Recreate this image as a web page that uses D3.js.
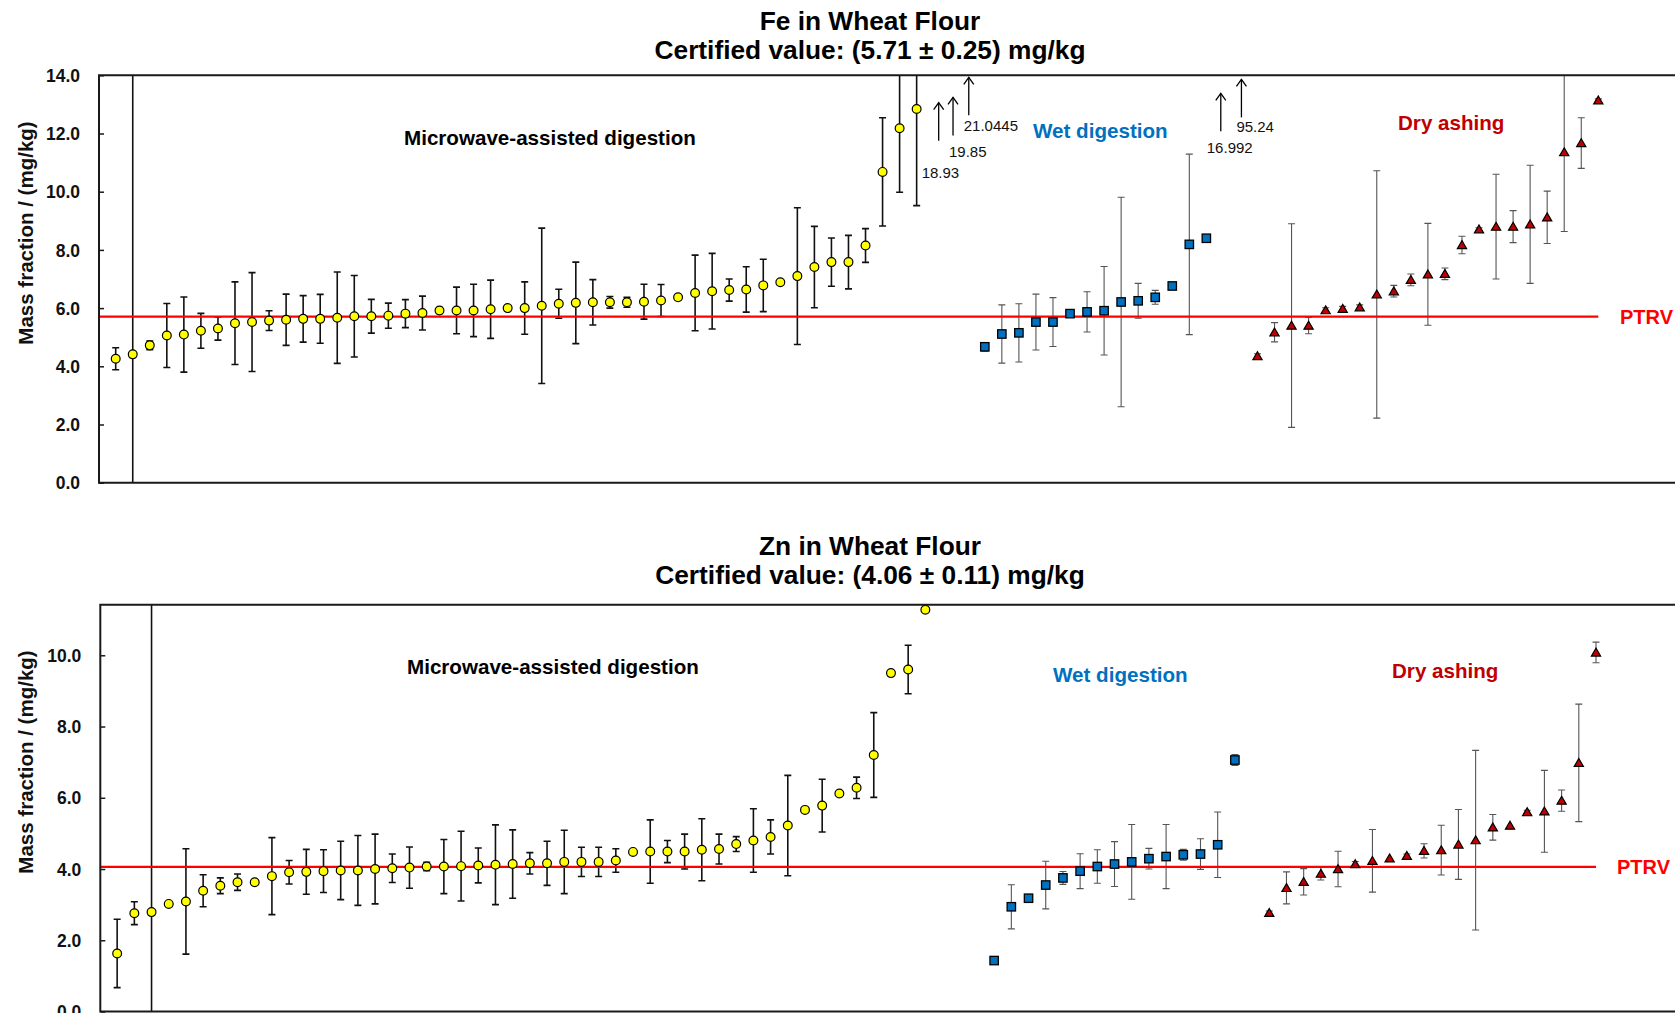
<!DOCTYPE html>
<html><head><meta charset="utf-8">
<script src="https://cdn.jsdelivr.net/npm/d3@7"></script>
<style>
body{margin:0;background:#fff}
svg{display:block}
text{font-family:"Liberation Sans",Arial,Helvetica,sans-serif}
</style>
</head><body>
<svg id="c" width="1675" height="1013"></svg>
<script>
// ---------------- DATA (mg/kg), sorted within each method ----------------
const groupNames = ["Microwave-assisted digestion", "Wet digestion", "Dry ashing"];

// Fe in wheat flour
const feMicrowave  = [4.26,4.41,4.72,5.06,5.09,5.22,5.30,5.48,5.52,5.57,5.60,5.63,5.63,5.67,5.72,5.72,5.74,5.81,5.83,5.92,5.92,5.92,5.96,6.00,6.00,6.08,6.15,6.18,6.20,6.20,6.20,6.22,6.26,6.37,6.52,6.58,6.62,6.64,6.78,6.89,7.10,7.41,7.58,7.58,8.15,10.68,12.18,12.84,18.93,19.85,21.0445];
const feMicrowaveU = [0.38,20,0.15,1.10,1.29,0.60,0.40,1.42,1.70,0.34,0.88,0.80,0.84,1.57,1.40,0.58,0.43,0.48,0.58,0.10,0.80,0.90,1.00,0.07,0.90,2.67,0.50,1.40,0.78,0.20,0.17,0.60,0.55,0.05,1.30,1.30,0.38,0.78,0.90,0.05,2.35,1.40,0.83,0.92,0.58,1.86,2.20,3.32,null,null,null];
const feWet        = [4.67,5.11,5.15,5.52,5.52,5.81,5.87,5.91,6.21,6.25,6.37,6.76,8.19,8.40,16.992,95.24];
const feWetU       = [0.15,1.00,1.00,0.96,0.84,0,0.69,1.52,3.60,0.60,0.24,0,3.10,0,null,null];
const feDry        = [4.35,5.17,5.40,5.40,5.93,5.98,6.03,6.47,6.58,6.97,7.16,7.18,8.17,8.71,8.80,8.80,8.88,9.12,11.36,11.67,13.14];
const feDryU       = [0.08,0.33,3.50,0.28,0.08,0.08,0.08,4.25,0.20,0.20,1.75,0.20,0.30,0.05,1.80,0.55,2.03,0.90,2.73,0.87,0.05];
const fePTRV = 5.71;
const feYTicks = [0,2,4,6,8,10,12,14];

// Zn in wheat flour (null = off-scale, not plotted)
const znMicrowave  = [1.63,2.76,2.79,3.02,3.09,3.39,3.53,3.63,3.63,3.80,3.91,3.92,3.94,3.96,3.96,4.00,4.02,4.04,4.07,4.07,4.08,4.10,4.12,4.14,4.16,4.16,4.20,4.20,4.20,4.24,4.48,4.49,4.49,4.49,4.54,4.56,4.70,4.80,4.90,5.22,5.66,5.78,6.12,6.28,7.20,9.50,9.60,11.28,null,null,null];
const znMicrowaveU = [0.96,0.32,20,0.05,1.48,0.45,0.22,0.23,0,1.08,0.33,0.63,0.60,0.82,0.98,0.98,0.40,0.58,0.12,0.76,0.98,0.49,1.12,0.96,0.30,0.62,0.89,0.41,0.41,0.33,0,0.89,0.31,0.49,0.87,0.42,0.21,0.89,0.48,1.41,0,0.74,0,0.30,1.19,0.05,0.68,0.05,null,null,null];
const znWet        = [1.43,2.94,3.18,3.55,3.75,3.94,4.07,4.14,4.20,4.29,4.35,4.40,4.42,4.68,7.06,null];
const znWetU       = [0,0.62,0,0.67,0.18,0.49,0.47,0.63,1.05,0.29,0.90,0.15,0.43,0.92,0.15,null];
const znDry        = [2.77,3.47,3.64,3.87,4.00,4.14,4.23,4.30,4.37,4.51,4.53,4.69,4.81,5.17,5.22,5.60,5.62,5.92,6.98,10.08];
const znDryU       = [0.05,0.45,0.37,0.18,0.50,0.07,0.88,0,0.05,0.20,0.70,0.98,2.52,0.36,0,0.05,1.15,0.30,1.65,0.29];
const znPTRV = 4.06;
const znYTicks = [0,2,4,6,8,10];

// call-outs for off-scale Fe results (arrow tip height on the axis, in mg/kg)
const feCallouts = [
  {tip:13.06, dx:5,    ldx:-17, ldy:32},
  {tip:13.24, dx:2.3,  ldx:-4,  ldy:16},
  {tip:13.93, dx:1,    ldx:-5,  ldy:10},
  {tip:13.38, dx:-2.6, ldx:-14, ldy:16},
  {tip:13.86, dx:1,    ldx:-5,  ldy:9}
];

// ---------------- DRAWING ----------------
const svg = d3.select("#c");
const markerStyle = [
  {fill:"#FFFF00", err:"#111", errW:1.6},
  {fill:"#0070C0", err:"#555", errW:1.1},
  {fill:"#C00000", err:"#555", errW:1.1}
];
const groupColors = ["#000000", "#0070C0", "#C00000"];

function panel(p) {
  const g = svg.append("g");
  const groups = p.groups;
  const pts = [];
  let slot = 0;
  groups.forEach((grp, gi) => {
    grp.values.forEach((v, k) => { pts.push({slot: slot++, v, u: grp.errors[k], gi}); });
  });
  const n = slot;
  const x = d3.scaleLinear().domain([-0.98, n - 1]).range([p.left, p.lastX]);
  const y = d3.scaleLinear().domain([0, p.yMax]).range([p.bottom, p.top]);

  const clipId = "clip" + p.id;
  svg.append("clipPath").attr("id", clipId).append("rect")
    .attr("x", p.left).attr("y", p.top).attr("width", 1700).attr("height", p.bottom - p.top);

  const inPlot = pts.filter(d => d.v !== null && d.v <= p.yMax);
  const offScale = pts.filter(d => d.v !== null && d.v > p.yMax);

  // error bars
  const eb = g.append("g").attr("clip-path", `url(#${clipId})`);
  inPlot.filter(d => d.u > 0).forEach(d => {
    const st = markerStyle[d.gi];
    const cx = x(d.slot), y1 = y(d.v + d.u), y2 = y(d.v - d.u);
    const e = eb.append("g").attr("stroke", st.err).attr("stroke-width", st.errW).attr("fill", "none");
    e.append("line").attr("x1", cx).attr("x2", cx).attr("y1", y1).attr("y2", y2);
    e.append("line").attr("x1", cx - 3.5).attr("x2", cx + 3.5).attr("y1", y1).attr("y2", y1);
    e.append("line").attr("x1", cx - 3.5).attr("x2", cx + 3.5).attr("y1", y2).attr("y2", y2);
  });

  // PTRV line
  g.append("line").attr("x1", p.left).attr("x2", x(n - 1))
    .attr("y1", y(p.ptrv)).attr("y2", y(p.ptrv))
    .attr("stroke", "#FF0000").attr("stroke-width", 2.2);

  // markers
  const mk = g.append("g").attr("clip-path", `url(#${clipId})`);
  inPlot.forEach(d => {
    const st = markerStyle[d.gi];
    const cx = x(d.slot), cy = y(d.v);
    if (d.gi === 0) {
      mk.append("circle").attr("cx", cx).attr("cy", cy).attr("r", 4.4)
        .attr("fill", st.fill).attr("stroke", "#000").attr("stroke-width", 1.2);
    } else if (d.gi === 1) {
      mk.append("rect").attr("x", cx - 4.2).attr("y", cy - 4.2).attr("width", 8.4).attr("height", 8.4)
        .attr("fill", st.fill).attr("stroke", "#000").attr("stroke-width", 1.3);
    } else {
      mk.append("path").attr("d", `M${cx},${cy - 4.3}L${cx + 4.6},${cy + 3.6}L${cx - 4.6},${cy + 3.6}Z`)
        .attr("fill", st.fill).attr("stroke", "#000").attr("stroke-width", 1.2).attr("stroke-linejoin", "miter");
    }
  });

  // off-scale call-outs
  if (p.callouts) {
    offScale.forEach((d, i) => {
      const c = p.callouts[i];
      if (!c) return;
      const ax = x(d.slot) + c.dx, ty = y(c.tip), by = ty + 38;
      const a = g.append("g").attr("stroke", "#000").attr("stroke-width", 1.3).attr("fill", "none");
      a.append("line").attr("x1", ax).attr("x2", ax).attr("y1", ty).attr("y2", by);
      a.append("path").attr("d", `M${ax - 5},${ty + 7}L${ax},${ty}L${ax + 5},${ty + 7}`);
      g.append("text").attr("x", ax + c.ldx).attr("y", by + c.ldy)
        .attr("dominant-baseline", "central").attr("font-size", 15).attr("fill", "#111")
        .text(String(d.v));
    });
  }

  // frame
  g.append("path")
    .attr("d", `M1700,${p.top}H${p.left}V${p.bottom}H1700`)
    .attr("fill", "none").attr("stroke", "#1a1a1a").attr("stroke-width", 2);

  // y axis
  const ax = g.append("g").attr("transform", `translate(${p.left},0)`)
    .call(d3.axisLeft(y).tickValues(p.ticks).tickSize(-5).tickPadding(19).tickFormat(d3.format(".1f")));
  ax.select(".domain").remove();
  ax.selectAll(".tick line").attr("stroke", "#1a1a1a").attr("stroke-width", 1.5);
  ax.selectAll(".tick text").attr("font-size", 17.5).attr("font-weight", "bold").attr("fill", "#111")
    .attr("font-family", '"Liberation Sans",Arial,sans-serif').attr("dy", "0.35em");

  // axis title
  g.append("text").attr("transform", `translate(25,${p.yLabelY}) rotate(-90)`)
    .attr("text-anchor", "middle").attr("dominant-baseline", "central")
    .attr("font-size", 20.5).attr("font-weight", "bold").attr("fill", "#111")
    .text("Mass fraction / (mg/kg)");

  // chart title
  p.title.forEach((t, i) => {
    g.append("text").attr("x", 870).attr("y", p.titleY + i * 29)
      .attr("text-anchor", "middle").attr("dominant-baseline", "central")
      .attr("font-size", 26.3).attr("font-weight", "bold").attr("fill", "#000").text(t);
  });

  // group labels
  groupNames.forEach((name, gi) => {
    const L = p.groupLabels[gi];
    g.append("text").attr("x", L[0]).attr("y", L[1]).attr("dominant-baseline", "central")
      .attr("font-size", 20.6).attr("font-weight", "bold").attr("fill", groupColors[gi]).text(name);
  });
  g.append("text").attr("x", p.ptrvLabelX).attr("y", y(p.ptrv)).attr("dominant-baseline", "central")
    .attr("font-size", 20).attr("font-weight", "bold").attr("fill", "#FF0000").text("PTRV");
}

panel({
  id: "fe",
  groups: [
    {values: feMicrowave, errors: feMicrowaveU},
    {values: feWet, errors: feWetU},
    {values: feDry, errors: feDryU}
  ],
  yMax: 14, ticks: feYTicks, ptrv: fePTRV,
  left: 99, lastX: 1598.3, top: 75.3, bottom: 482.7,
  title: ["Fe in Wheat Flour", "Certified value: (5.71 \u00B1 0.25) mg/kg"], titleY: 21,
  yLabelY: 233,
  groupLabels: [[404, 137], [1033, 130], [1398, 122]],
  ptrvLabelX: 1620,
  callouts: feCallouts
});

panel({
  id: "zn",
  groups: [
    {values: znMicrowave, errors: znMicrowaveU},
    {values: znWet, errors: znWetU},
    {values: znDry, errors: znDryU}
  ],
  yMax: 11.42, ticks: znYTicks, ptrv: znPTRV,
  left: 100.3, lastX: 1596, top: 604.7, bottom: 1011.5,
  title: ["Zn in Wheat Flour", "Certified value: (4.06 \u00B1 0.11) mg/kg"], titleY: 546,
  yLabelY: 762,
  groupLabels: [[407, 666], [1053, 674], [1392, 670]],
  ptrvLabelX: 1617,
  callouts: null
});
</script>
</body></html>
